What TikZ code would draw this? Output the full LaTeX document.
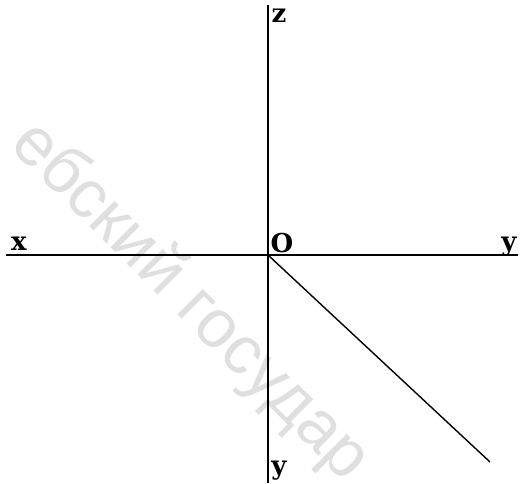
\documentclass[tikz,border=0pt]{standalone}
\usepackage{fontspec}
\setmainfont{DejaVu Serif}
\newfontfamily\wmfont{Liberation Sans}
\usetikzlibrary{positioning}
\tikzset{
  axisline/.style={black,line width=1.4pt},
  axlabel/.style={font=\fontsize{26}{26}\selectfont\bfseries,inner sep=0pt,anchor=base},
  watermark/.style={font=\wmfont\fontsize{68}{68}\selectfont,text=gray!25,rotate=-45}
}
\begin{document}
\begin{tikzpicture}[x=1pt,y=-1pt]
  \useasboundingbox (0,0) rectangle (523,483);
  \clip (0,0) rectangle (523,483);
  % водяной знак
  \node[watermark] (wm) at (190,302) {ебский государ};
  % концы осей
  \coordinate (O) at (268,255);
  \coordinate (xl) at (6,255);
  \coordinate (yr) at (518,255);
  \coordinate (zt) at (268,5);
  \coordinate (yb) at (268,483);
  \coordinate (ye) at (490,462);
  \draw[axisline] (xl) -- (yr);
  \draw[axisline] (zt) -- (yb);
  \draw[axisline] (O) -- (ye);
  % подписи
  \foreach \nm/\px/\py/\txt in {lz/279/22/z, lx/19/250/x, lo/282/252/O, lyr/509/250/y, lyb/279/474/y}{
    \node[axlabel] (\nm) at (\px,\py) {\txt};
  }
\end{tikzpicture}
\end{document}
